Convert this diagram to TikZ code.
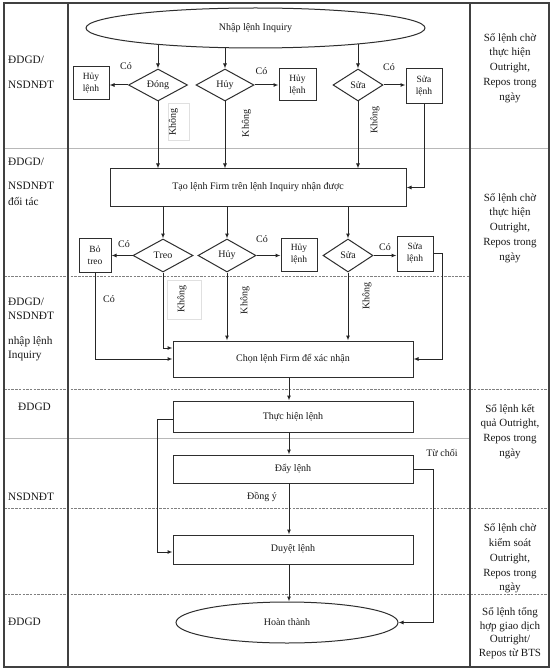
\documentclass[tikz,border=0pt]{standalone}
\usepackage{fontspec}
\setmainfont{Liberation Serif}
\usetikzlibrary{shapes.geometric,arrows.meta,backgrounds,calc}
\begin{document}
\begin{tikzpicture}[x=1pt,y=-1pt,
  every node/.style={text=black!90, inner sep=0pt},
  ln/.style={draw=black!85, line width=1pt},
  arr/.style={ln, -{Latex[length=5pt,width=4pt]}},
  sbox/.style={draw=black!82, line width=1pt, rectangle, align=center, font=\fontsize{9.5}{12}\selectfont},
  pbox/.style={draw=black!82, line width=1pt, rectangle, font=\fontsize{10}{12}\selectfont},
  dia/.style={draw=black!82, line width=1pt, diamond, shape aspect=2, font=\fontsize{10}{12}\selectfont},
  ell/.style={draw=black!82, line width=1pt, ellipse, fill=white, font=\fontsize{10}{12}\selectfont},
  lbl/.style={font=\fontsize{10}{12}\selectfont},
  rot/.style={lbl, rotate=90},
  faint/.style={draw=black!12, line width=0.6pt},
  lane/.style={font=\fontsize{11.3}{14}\selectfont, anchor=west},
  side/.style={font=\fontsize{11}{14.8}\selectfont, align=center},
  sidetight/.style={font=\fontsize{11}{13.6}\selectfont, align=center},
  sep/.style={draw=black!28, line width=0.8pt},
  dsep/.style={draw=black!50, line width=0.8pt, dash pattern=on 2.5pt off 1.2pt},
  outerln/.style={draw=black!75, line width=1.2pt},
]
\useasboundingbox (0,0) rectangle (553,671);
\begin{pgfonlayer}{background}
  \fill[white] (0,0) rectangle (553,671);
\end{pgfonlayer}

% lane separators and frame
\draw[sep] (4,148) -- (549,148);
\draw[dsep] (4,276) -- (470,276);
\draw[dsep] (4,389) -- (549,389);
\draw[sep] (4,438) -- (470,438);
\draw[dsep] (4,508) -- (549,508);
\draw[dsep] (4,594) -- (549,594);
\draw[outerln] (4,3) rectangle (549,667);
\draw[outerln] (68,3) -- (68,667);
\draw[outerln] (470,3) -- (470,667);

% lane labels
\node[lane] (l1a) at (8,60) {ĐDGD/};
\node[lane] (l1b) at (8,85) {NSDNĐT};
\node[lane] (l2a) at (8,162) {ĐDGD/};
\node[lane] (l2b) at (8,186) {NSDNĐT};
\node[lane] (l2c) at (8,201) {đối tác};
\node[lane] (l3a) at (8,302) {ĐDGD/};
\node[lane] (l3b) at (8,316) {NSDNĐT};
\node[lane] (l3c) at (8,342) {nhập lệnh};
\node[lane] (l3d) at (8,356) {Inquiry};
\node[lane] (l4) at (18,407) {ĐDGD};
\node[lane] (l5) at (8,497) {NSDNĐT};
\node[lane] (l7) at (8,622) {ĐDGD};

% right column
\node[side] (s1) at (510,68) {Sổ lệnh chờ\\thực hiện\\Outright,\\Repos trong\\ngày};
\node[side] (s2) at (510,228) {Sổ lệnh chờ\\thực hiện\\Outright,\\Repos trong\\ngày};
\node[side] (s3) at (510,431.5) {Sổ lệnh kết\\quả Outright,\\Repos trong\\ngày};
\node[side] (s4) at (510,558.5) {Sổ lệnh chờ\\kiểm soát\\Outright,\\Repos trong\\ngày};
\node[sidetight] (s5) at (510,633) {Sổ lệnh tổng\\hợp giao dịch\\Outright/\\Repos từ BTS};

% row 1
\node[ell, minimum width=339pt, minimum height=40pt] (E1) at (255.5,28) {Nhập lệnh Inquiry};
\node[dia, minimum width=59pt, minimum height=32pt] (D1) at (158,85) {Đóng};
\node[dia, minimum width=58pt, minimum height=32pt] (D2) at (225,85) {Hủy};
\node[dia, minimum width=50pt, minimum height=32pt] (D3) at (358,85) {Sửa};
\node[sbox, minimum width=36pt, minimum height=33pt] (B1) at (91,83.5) {Hủy\\lệnh};
\node[sbox, minimum width=37pt, minimum height=32pt] (B2) at (297.5,85) {Hủy\\lệnh};
\node[sbox, minimum width=36pt, minimum height=35pt] (B3) at (424,86.5) {Sửa\\lệnh};
\node[pbox, minimum width=296pt, minimum height=37pt] (T) at (258,187.5) {Tạo lệnh Firm trên lệnh Inquiry nhận được};

% row 2
\node[dia, minimum width=60pt, minimum height=33pt] (D4) at (163,255.5) {Treo};
\node[dia, minimum width=58pt, minimum height=33pt] (D5) at (227,255.5) {Hủy};
\node[dia, minimum width=50pt, minimum height=33pt] (D6) at (348,255.5) {Sửa};
\node[sbox, minimum width=32pt, minimum height=34pt] (B4) at (95,255) {Bỏ\\treo};
\node[sbox, minimum width=36pt, minimum height=33pt] (B5) at (299,254.5) {Hủy\\lệnh};
\node[sbox, minimum width=36pt, minimum height=35pt] (B6) at (415,253.5) {Sửa\\lệnh};
\node[pbox, minimum width=240pt, minimum height=36pt] (C) at (293,359) {Chọn lệnh Firm để xác nhận};

% lower part
\node[pbox, minimum width=240pt, minimum height=31pt] (TH) at (293,416.5) {Thực hiện lệnh};
\node[pbox, minimum width=240pt, minimum height=28pt] (DL) at (293,469) {Đẩy lệnh};
\node[pbox, minimum width=240pt, minimum height=29pt] (DU) at (293,549.5) {Duyệt lệnh};
\node[ell, minimum width=222pt, minimum height=41pt] (E2) at (287,622.5) {Hoàn thành};

% connectors into the top ellipse (hidden behind it)
\begin{pgfonlayer}{background}
  \draw[arr] (D1.north |- E1.center) -- (D1.north);
  \draw[arr] (D2.north |- E1.center) -- (D2.north);
  \draw[arr] (D3.north |- E1.center) -- (D3.north);
\end{pgfonlayer}

\draw[arr] (D1.west) -- (D1.west -| B1.east);
\draw[arr] (D2.east) -- (D2.east -| B2.west);
\draw[arr] (D3.east) -- (D3.east -| B3.west);
\draw[arr] (D1.south) -- (D1.south |- T.north);
\draw[arr] (D2.south) -- (D2.south |- T.north);
\draw[arr] (D3.south) -- (D3.south |- T.north);
\draw[arr] (B3.south) |- (T.east);

\draw[arr] (D4.north |- T.south) -- (D4.north);
\draw[arr] (D5.north |- T.south) -- (D5.north);
\draw[arr] (D6.north |- T.south) -- (D6.north);
\draw[arr] (D4.west) -- (D4.west -| B4.east);
\draw[arr] (D5.east) -- (D5.east -| B5.west);
\draw[arr] (D6.east) -- (D6.east -| B6.west);
\draw[arr] (B4.south) |- (C.west);
\draw[arr] (D4.south) |- ([yshift=11pt]C.west);
\draw[arr] (D5.south) -- (D5.south |- C.north);
\draw[arr] (D6.south) -- (D6.south |- C.north);
\draw[arr] (B6.east) -- ++(9,0) |- (C.east);

\draw[arr] ([xshift=-4pt]C.south) -- ([xshift=-4pt]TH.north);
\draw[arr] ([xshift=-4pt]TH.south) -- ([xshift=-4pt]DL.north);
\draw[arr] ([xshift=-4pt]DL.south) -- ([xshift=-4pt]DU.north);
\draw[arr] ([xshift=-4pt]DU.south) -- ([xshift=-4pt]DU.south |- E2.north);
\draw[arr] ([yshift=-2.5pt]TH.west) -- ++(-15,0) |- ([yshift=-2.5pt]DU.west);
\draw[arr] (DL.east) -- ++(20,0) |- (E2.east);

% labels
\node[lbl] (c1) at (126,66) {Có};
\node[lbl] (c2) at (261.5,71) {Có};
\node[lbl] (c3) at (389,67) {Có};
\node[lbl] (c4) at (124,244) {Có};
\node[lbl] (c5) at (262,239) {Có};
\node[lbl] (c6) at (385,247) {Có};
\node[lbl] (c7) at (109,299) {Có};
\draw[faint] (168,103) rectangle (189,140);
\draw[faint] (167,280) rectangle (201,319);
\node[rot] (k1) at (173.5,122) {Không};
\node[rot] (k2) at (246.5,123.5) {Không};
\node[rot] (k3) at (375,120) {Không};
\node[rot] (k4) at (182,299) {Không};
\node[rot] (k5) at (245,300.5) {Không};
\node[rot] (k6) at (367,296) {Không};
\node[lbl] (dy) at (262,497) {Đồng ý};
\node[lbl] (tc) at (442,453) {Từ chối};
\end{tikzpicture}
\end{document}
